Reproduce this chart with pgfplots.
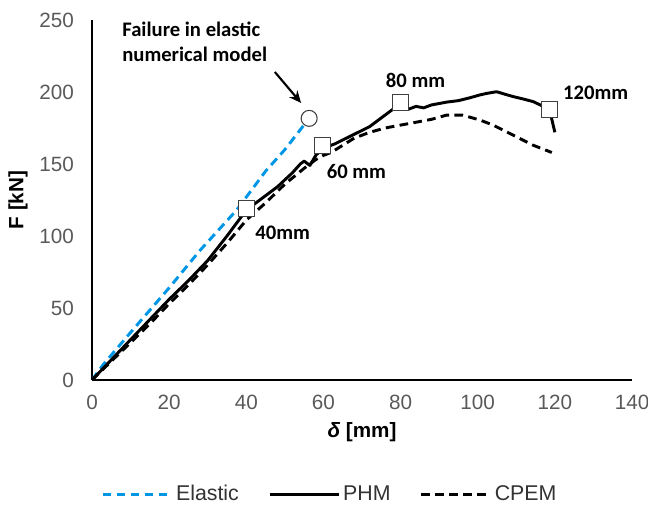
\documentclass[border=0pt]{standalone}
\usepackage{fontspec}
\setmainfont{Liberation Sans}
\newfontfamily\calfont{Carlito}
\usepackage{pgfplots}
\pgfplotsset{compat=1.18}
\usetikzlibrary{arrows.meta}
\definecolor{elastic}{RGB}{0,150,230}
\definecolor{ticktext}{RGB}{89,89,89}

\begin{document}
\begin{tikzpicture}
\path[use as bounding box] (0,0) rectangle (486pt,387pt);
\begin{axis}[
    at={(69pt,102pt)}, anchor=south west,
    scale only axis, width=405pt, height=270pt,
    xmin=0, xmax=140, ymin=0, ymax=250,
    xtick={0,20,...,140}, ytick={0,50,...,250},
    axis x line=bottom, axis y line=left,
    axis line style={-, line width=1.4pt, black},
    major tick length=0pt,
    tick label style={font=\fontsize{15.5}{18}\selectfont, text=ticktext},
    /pgf/number format/assume math mode=true,
    yticklabel style={xshift=-10pt},
    xticklabel style={yshift=-8pt},
    xlabel={\textbf{\textit{δ} [mm]}},
    ylabel={\textbf{F [kN]}},
    label style={font=\fontsize{15.5}{18}\selectfont},
    xlabel style={at={(axis description cs:0.5,-0.144)}, anchor=center},
    ylabel style={at={(axis description cs:-0.137,0.5)}, anchor=center},
    legend style={at={(axis description cs:0.441,-0.317)}, anchor=center,
        draw=none, font=\fontsize{16}{19}\selectfont, text=black!80,
        legend columns=3, /tikz/every even column/.append style={column sep=20pt}},
    legend image code/.code={\draw[#1] (0pt,0pt) -- (52pt,0pt);},
    clip=false,
]
% Elastic model
\addplot[elastic, line width=2.2pt, dash pattern=on 6.5pt off 4pt] coordinates {
    (0,0) (3,11) (10,33) (20,64) (28,90) (37.5,118) (45,145) (50,160) (56.3,181.7)
};
\addlegendentry{Elastic}
% PHM
\addplot[black, line width=2.2pt, line join=round] coordinates {
    (0,0) (5,14) (10,28) (15,42) (20,56) (25,69) (30,83) (35,100) (40,118)
    (43,124) (46,130) (48,134) (50,139) (52,144) (54,150) (55,152) (56.5,149)
    (58,156) (60,161) (63,164) (66,168) (69,172) (72,176) (75,182) (78,188)
    (80,192) (82,188) (84,190) (86,189) (88,191) (90,192) (92,193) (95,194)
    (98,196) (100.6,198) (102.3,199) (104.9,200.2) (107,198.5) (109.2,196.8)
    (112,195) (114.4,193.3) (118.6,188) (120,172)
};
\addlegendentry{PHM}
% CPEM
\addplot[black, line width=2.2pt, dash pattern=on 6.5pt off 4pt] coordinates {
    (0,0) (5,13) (10,26) (15,39) (20,53) (25,66) (30,80) (35,95) (40,111)
    (45,123) (50,136) (55,147) (58,153) (60,156) (62,158) (65,163) (68,168)
    (72,172) (76,175) (80,177) (84,179) (88,181) (92,184) (96,184)
    (100.6,180.5) (104,177) (109.2,170) (114.4,163) (119.2,158)
};
\addlegendentry{CPEM}
% markers
\addplot[only marks, mark=square*, mark size=6pt, forget plot,
    mark options={fill=white, draw=black!75, line width=0.8pt}] coordinates {
    (40,119.4) (59.8,163) (80,193) (118.6,188)
};
\addplot[only marks, mark=*, mark size=6pt, forget plot,
    mark options={fill=white, draw=black!75, line width=0.8pt}] coordinates {
    (56.3,181.7)
};

\tikzset{lbl/.style={font=\calfont\bfseries\fontsize{15.5}{18.75}\selectfont, inner sep=0pt}}
\node[lbl, align=left, anchor=west] at (axis cs:7.8,234.7) {Failure in elastic\\numerical model};
\draw[-{Stealth[length=9pt,width=8pt]}, line width=1.6pt] (axis cs:47.4,213.9) -- (axis cs:54.2,192.4);
\node[lbl, anchor=west] at (axis cs:42.3,102) {40mm};
\node[lbl, anchor=west] at (axis cs:60.8,144.8) {60 mm};
\node[lbl] at (axis cs:83.9,208.3) {80 mm};
\node[lbl, anchor=west] at (axis cs:122.1,199.3) {120mm};
\end{axis}
\end{tikzpicture}
\end{document}
